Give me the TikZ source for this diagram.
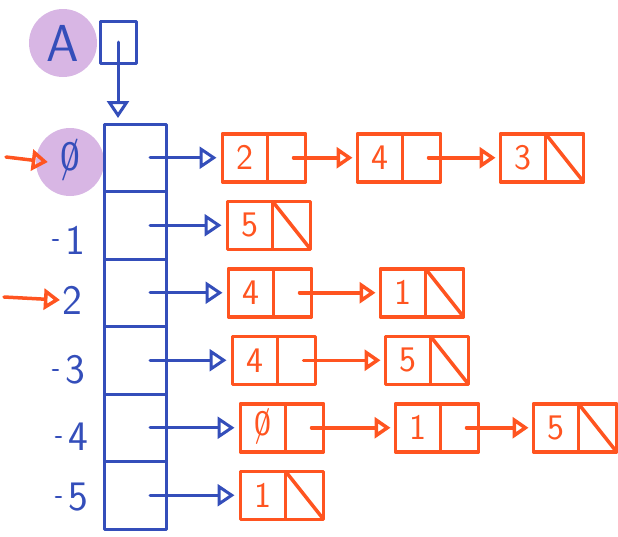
\documentclass[tikz,border=0pt]{standalone}
\usepackage{tikz}
\usetikzlibrary{arrows.meta}
\usetikzlibrary{positioning}

\definecolor{ink}{RGB}{52,78,186}
\definecolor{marker}{RGB}{255,84,32}
\definecolor{lilac}{RGB}{216,182,228}

\newcommand{\zerobar}{\ooalign{0\cr\hidewidth/\hidewidth}}

\tikzset{
  slot/.style={draw=ink, line width=3pt, minimum width=62pt, minimum height=67.5pt, inner sep=0pt, outer sep=0pt},
  idx/.style={text=ink, inner sep=2pt, font=\sffamily\fontsize{42}{42}\selectfont},
  halo/.style={circle, fill=lilac, minimum size=68pt, inner sep=0pt},
  val/.style={draw=marker, line width=3.5pt, minimum width=45pt, minimum height=48pt, inner sep=0pt, outer sep=0pt,
    text=marker, font=\sffamily\fontsize{36}{36}\selectfont},
  ptr/.style={draw=marker, line width=3.5pt, minimum width=38pt, minimum height=48pt, inner sep=0pt, outer sep=0pt},
  nil/.style={ptr, path picture={\draw[marker, line width=3.5pt] (path picture bounding box.north west) -- (path picture bounding box.south east);}},
  link/.style={draw=marker, line width=3.5pt, shorten >=5pt, -{Triangle[open, length=16pt, width=21pt]}},
  head/.style={draw=ink, line width=3pt, shorten >=6pt, -{Triangle[open, length=17pt, width=22pt]}},
}

\begin{document}
\begin{tikzpicture}[x=1pt, y=-1pt, line cap=round, line join=round]
  \useasboundingbox (0,0) rectangle (618,536);

  % array name and its pointer cell
  \node[idx, halo, font=\sffamily\fontsize{52}{52}\selectfont] (lblA) at (63,43) {A};
  \node[draw=ink, line width=3pt, minimum width=36pt, minimum height=42pt] (abox) at (118,42) {};

  % index labels
  \node[idx, halo] (i0) at (70,162) {\zerobar};
  \foreach \i/\x/\y in {1/75/240, 2/72/300, 3/75/370, 4/78/437, 5/78/497}
    \node[idx] (i\i) at (\x,\y) {\i};

  % small ticks in front of the labels
  \foreach \i in {1,3,4,5}
    \draw[ink, line width=2.5pt] ([xshift=-10pt]i\i.west) -- ++(5,0);

  % marked vertices
  \coordinate (from0) at (6,157);
  \coordinate (from2) at (4,297);
  \draw[link, shorten >=0pt] (from0) -- ([xshift=12pt]i0.west);
  \draw[link, shorten >=0pt] (from2) -- (i2.west);

  % the array of heads
  \node[slot] (s0) at (135,157.75) {};
  \foreach \i/\j in {1/0, 2/1, 3/2, 4/3, 5/4}
    \node[slot, below=0pt of s\j] (s\i) {};

  \draw[head] (abox.center) -- (abox.center |- s0.north);

  % row 0: 2 -> 4 -> 3
  \node[val] (r0a) at (245,157.75) {2};
  \node[ptr, right=0pt of r0a] (r0ap) {};
  \node[val] (r0b) at (380,157.75) {4};
  \node[ptr, right=0pt of r0b] (r0bp) {};
  \node[val] (r0c) at (523,157.75) {3};
  \node[nil, right=0pt of r0c] (r0cp) {};

  % row 1: 5
  \node[val] (r1a) at (250,225.25) {5};
  \node[nil, right=0pt of r1a] (r1ap) {};

  % row 2: 4 -> 1
  \node[val] (r2a) at (251,292.75) {4};
  \node[ptr, right=0pt of r2a] (r2ap) {};
  \node[val] (r2b) at (403,292.75) {1};
  \node[nil, right=0pt of r2b] (r2bp) {};

  % row 3: 4 -> 5
  \node[val] (r3a) at (255,360.25) {4};
  \node[ptr, right=0pt of r3a] (r3ap) {};
  \node[val] (r3b) at (408,360.25) {5};
  \node[nil, right=0pt of r3b] (r3bp) {};

  % row 4: 0 -> 1 -> 5
  \node[val] (r4a) at (263,427.75) {\zerobar};
  \node[ptr, right=0pt of r4a] (r4ap) {};
  \node[val] (r4b) at (418,427.75) {1};
  \node[ptr, right=0pt of r4b] (r4bp) {};
  \node[val] (r4c) at (556,427.75) {5};
  \node[nil, right=0pt of r4c] (r4cp) {};

  % row 5: 1
  \node[val] (r5a) at (263,495.25) {1};
  \node[nil, right=0pt of r5a] (r5ap) {};

  % heads to first cells
  \foreach \i in {0,...,5}
    \draw[head] ([xshift=-16pt]s\i.east) -- (r\i a.west);

  % next pointers
  \draw[link] ([xshift=-12pt]r0ap.east) -- (r0b.west);
  \draw[link] ([xshift=-12pt]r0bp.east) -- (r0c.west);
  \draw[link] ([xshift=-12pt]r2ap.east) -- (r2b.west);
  \draw[link] ([xshift=-12pt]r3ap.east) -- (r3b.west);
  \draw[link] ([xshift=-12pt]r4ap.east) -- (r4b.west);
  \draw[link] ([xshift=-12pt]r4bp.east) -- (r4c.west);
\end{tikzpicture}
\end{document}
